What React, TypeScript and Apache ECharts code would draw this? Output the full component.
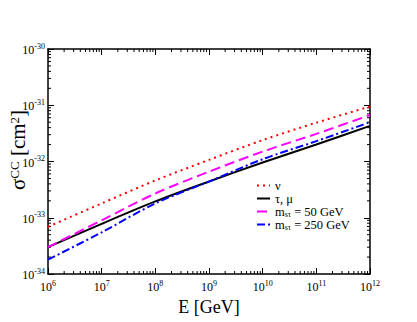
import React, { useEffect, useRef } from "react";
import * as echarts from "echarts";

// Energies (GeV) at each decade
const energies = [1e6, 1e7, 1e8, 1e9, 1e10, 1e11, 1e12];
// Cross sections (cm^2)
const nuValues = [6.9e-34, 1.8e-33, 4.6e-33, 1.07e-32, 2.4e-32, 4.9e-32, 9.5e-32];
const tauMuValues = [3.0e-34, 7.8e-34, 1.95e-33, 4.4e-33, 9.6e-33, 2.0e-32, 4.3e-32];
const m50Values = [3.0e-34, 9.0e-34, 2.7e-33, 6.6e-33, 1.5e-32, 3.1e-32, 6.7e-32];
const m250Values = [1.8e-34, 5.5e-34, 1.8e-33, 4.4e-33, 1.1e-32, 2.3e-32, 5.0e-32];

const seriesNames = ["ν", "τ, μ", "msτ = 50 GeV", "msτ = 250 GeV"];
const legendRich: Record<string, string> = {
  "ν": "{t|ν}",
  "τ, μ": "{t|τ, μ}",
  "msτ = 50 GeV": "{t|m}{sub|sτ}{t| = 50 GeV}",
  "msτ = 250 GeV": "{t|m}{sub|sτ}{t| = 250 GeV}",
};

// Axis decades (log10)
const xMinExp = 6;
const xMaxExp = 12;
const yMinExp = -34;
const yMaxExp = -30;
const minorMultipliers = [2, 3, 4, 5, 6, 7, 8, 9];

const FONT = "'Liberation Serif', 'Times New Roman', serif";

function toPairs(vals: number[]) {
  return energies.map((e, i) => [Math.log10(e), Math.log10(vals[i])]);
}

export default function App() {
  const ref = useRef<HTMLDivElement>(null);
  useEffect(() => {
    if (!ref.current) return;
    const chart = echarts.init(ref.current, null, { renderer: "svg" });

    const minorX: number[][] = [];
    for (let d = xMinExp; d < xMaxExp; d++)
      minorMultipliers.forEach((k) => minorX.push([d + Math.log10(k), yMinExp]));
    const minorY: number[][] = [];
    for (let d = yMinExp; d < yMaxExp; d++)
      minorMultipliers.forEach((k) => minorY.push([xMinExp, d + Math.log10(k)]));

    const tickLabel = (v: number) => `{b|10}{s|${Math.round(v)}}`;
    const labelRich = {
      b: { fontSize: 12, fontFamily: FONT, color: "#000", lineHeight: 14, verticalAlign: "bottom" },
      s: { fontSize: 8, fontFamily: FONT, color: "#000", lineHeight: 9, verticalAlign: "top" },
    };
    const axisLine = { show: true, lineStyle: { color: "#000", width: 1.5 } };
    const axisTick = { show: true, inside: true, length: 6, lineStyle: { color: "#000", width: 1 } };

    const lineWidth = 2;
    chart.setOption({
      animation: false,
      backgroundColor: "#fff",
      grid: { left: 48, top: 49, right: 47, bottom: 48, containLabel: false },
      xAxis: [
        {
          type: "value",
          min: xMinExp,
          max: xMaxExp,
          interval: 1,
          position: "bottom",
          axisLine,
          axisTick,
          splitLine: { show: false },
          axisLabel: { formatter: tickLabel, rich: labelRich, margin: 5 },
          name: "E [GeV]",
          nameLocation: "middle",
          nameGap: 19,
          nameTextStyle: { fontSize: 18, fontFamily: FONT, color: "#000" },
        },
        {
          type: "value",
          min: xMinExp,
          max: xMaxExp,
          interval: 1,
          position: "top",
          axisLine,
          axisTick,
          splitLine: { show: false },
          axisLabel: { show: false },
        },
      ],
      yAxis: [
        {
          type: "value",
          min: yMinExp,
          max: yMaxExp,
          interval: 1,
          position: "left",
          axisLine,
          axisTick,
          splitLine: { show: false },
          axisLabel: { formatter: tickLabel, rich: labelRich, margin: 3 },
        },
        {
          type: "value",
          min: yMinExp,
          max: yMaxExp,
          interval: 1,
          position: "right",
          axisLine,
          axisTick,
          splitLine: { show: false },
          axisLabel: { show: false },
        },
      ],
      legend: {
        data: seriesNames,
        orient: "vertical",
        left: 251,
        top: 174,
        itemWidth: 13,
        itemHeight: 8,
        itemGap: 0,
        itemStyle: { opacity: 0 },
        formatter: (name: string) => legendRich[name] || name,
        textStyle: {
          fontFamily: FONT,
          color: "#000",
          rich: {
            t: { fontSize: 12.5, fontFamily: FONT, color: "#000", lineHeight: 13 },
            sub: { fontSize: 8, fontFamily: FONT, color: "#000", lineHeight: 8, verticalAlign: "bottom" },
          },
        },
      },
      graphic: [
        {
          type: "text",
          x: 18,
          y: 150,
          rotation: Math.PI / 2,
          style: {
            text: "{a|σ}{s|CC}{a| [cm}{s|2}{a|]}",
            align: "center",
            verticalAlign: "middle",
            rich: {
              a: { fontSize: 21, fontFamily: FONT, fill: "#000", lineHeight: 21, verticalAlign: "bottom" },
              s: { fontSize: 13, fontFamily: FONT, fill: "#000", lineHeight: 13, verticalAlign: "top" },
            },
          },
        },
      ],
      series: [
        {
          name: seriesNames[0],
          type: "line",
          data: toPairs(nuValues),
          smooth: 0.3,
          symbol: "none",
          lineStyle: { color: "#ff0000", width: lineWidth, type: [2, 4] },
          itemStyle: { color: "#ff0000" },
        },
        {
          name: seriesNames[1],
          type: "line",
          data: toPairs(tauMuValues),
          smooth: 0.3,
          symbol: "none",
          lineStyle: { color: "#000000", width: lineWidth, type: "solid" },
          itemStyle: { color: "#000000" },
        },
        {
          name: seriesNames[2],
          type: "line",
          data: toPairs(m50Values),
          smooth: 0.3,
          symbol: "none",
          lineStyle: { color: "#ff00ff", width: lineWidth, type: [10, 5] },
          itemStyle: { color: "#ff00ff" },
        },
        {
          name: seriesNames[3],
          type: "line",
          data: toPairs(m250Values),
          smooth: 0.3,
          symbol: "none",
          lineStyle: { color: "#0000ff", width: lineWidth, type: [8, 3, 2, 3] },
          itemStyle: { color: "#0000ff" },
        },
        {
          type: "custom",
          silent: true,
          data: minorX,
          encode: { x: 0, y: 1 },
          renderItem: (params: any, api: any) => {
            const cs = params.coordSys;
            const px = api.coord([api.value(0), yMinExp])[0];
            const st = { stroke: "#000", lineWidth: 1 };
            return {
              type: "group",
              children: [
                { type: "line", shape: { x1: px, y1: cs.y + cs.height, x2: px, y2: cs.y + cs.height - 3 }, style: st },
                { type: "line", shape: { x1: px, y1: cs.y, x2: px, y2: cs.y + 3 }, style: st },
              ],
            };
          },
        },
        {
          type: "custom",
          silent: true,
          data: minorY,
          encode: { x: 0, y: 1 },
          renderItem: (params: any, api: any) => {
            const cs = params.coordSys;
            const py = api.coord([xMinExp, api.value(1)])[1];
            const st = { stroke: "#000", lineWidth: 1 };
            return {
              type: "group",
              children: [
                { type: "line", shape: { x1: cs.x, y1: py, x2: cs.x + 3, y2: py }, style: st },
                { type: "line", shape: { x1: cs.x + cs.width, y1: py, x2: cs.x + cs.width - 3, y2: py }, style: st },
              ],
            };
          },
        },
      ],
    });
    return () => chart.dispose();
  }, []);
  return (
    <div
      ref={ref}
      style={{ position: "fixed", left: 0, top: 0, width: 417, height: 322, background: "#fff" }}
    />
  );
}
